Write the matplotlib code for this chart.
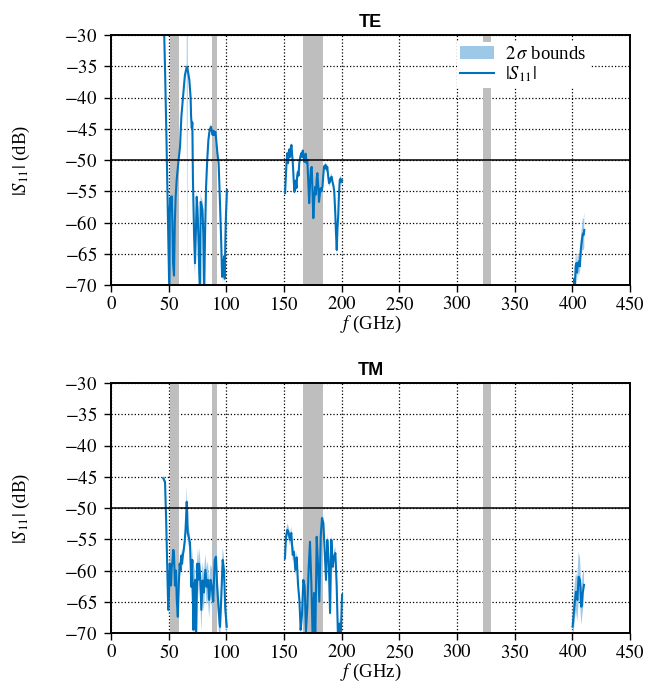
import numpy as np
import matplotlib
matplotlib.use("Agg")
import matplotlib.pyplot as plt
from matplotlib.ticker import FuncFormatter

nan = np.nan

# grey bands (GHz): start, stop
bands = [(50.8, 58.9), (87.7, 91.6), (166.5, 183.6), (322.6, 329.3)]

# TE polarisation: frequency (GHz), |S11| (dB), sigma (dB); nan separates sweeps
te_f = [46.0, 47.0, 48.0, 49.0, 50.0, 50.6, 51.0, 51.5, 52.0, 52.6, 53.2, 53.8, 54.6,
        55.3, 56.0, 56.9, 58.0, 59.8, 61.0, 62.7, 64.0, 65.0, 65.6, 66.1, 66.5, 67.9,
        69.0, 69.4, 70.0, 70.5, 71.0, 72.0, 72.8, 73.5, 74.3, 75.0, 75.7, 76.5, 77.2,
        77.7, 78.3, 79.3, 80.0, 80.7, 81.5, 82.4, 83.4, 84.4, 85.5, 86.7, 87.5, 88.1,
        88.8, 89.5, 90.5, 91.3, 92.2, 93.3, 94.5, 95.5, 96.3, 96.8, 97.4, 98.0, 98.6,
        99.2, 99.7, 100.5, nan,
        150.9, 151.3, 151.7, 152.3, 152.9, 153.5, 154.0, 154.6, 155.2, 155.8, 156.4,
        157.0, 157.6, 158.3, 159.0, 159.6, 160.2, 160.8, 161.4, 162.0, 162.6, 163.2,
        163.9, 164.5, 165.1, 165.7, 166.3, 167.0, 167.6, 168.2, 168.8, 169.5, 170.2,
        171.0, 171.8, 172.5, 173.2, 174.0, 174.7, 175.4, 176.1, 176.9, 177.6, 178.3,
        178.9, 179.6, 180.3, 181.0, 181.7, 182.5, 183.3, 184.0, 184.7, 185.4, 186.1,
        186.8, 187.5, 188.2, 189.0, 189.8, 190.5, 191.3, 192.0, 192.8, 193.5, 194.3,
        195.0, 195.7, 196.3, 197.0, 197.6, 198.3, 199.0, 199.6, 200.3, nan,
        401.0, 401.6, 402.2, 402.8, 403.4, 404.0, 404.6, 405.2, 405.8, 406.5, 407.2,
        407.8, 408.5, 409.1, 409.7, 410.3]
te_s = [-29.0, -37.0, -46.0, -56.0, -66.0, -72.0, -57.5, -56.0, -58.0, -55.8, -60.0,
        -66.5, -68.5, -60.0, -56.0, -53.2, -51.0, -47.9, -43.0, -39.3, -36.5, -35.6,
        -35.2, -35.1, -35.6, -37.2, -40.0, -43.0, -44.9, -44.0, -53.0, -62.0, -66.5,
        -62.0, -55.9, -58.0, -62.0, -68.0, -72.0, -56.7, -57.0, -58.0, -62.0, -72.0,
        -62.0, -54.3, -50.0, -46.8, -45.2, -44.7, -45.5, -46.0, -45.3, -46.0, -45.5,
        -47.0, -48.9, -50.5, -57.0, -63.0, -68.7, -66.0, -68.5, -65.4, -69.0, -62.0,
        -58.5, -54.8, nan,
        -55.3, -53.5, -52.1, -50.0, -48.9, -50.5, -49.5, -48.3, -49.5, -48.4, -47.6,
        -49.0, -50.5, -53.0, -55.1, -54.0, -53.3, -54.5, -52.5, -51.9, -52.5, -50.5,
        -49.7, -49.2, -48.9, -49.5, -48.5, -49.3, -50.3, -49.5, -49.0, -50.5, -50.0,
        -53.5, -56.9, -54.0, -51.5, -51.1, -55.0, -59.3, -56.5, -54.3, -55.5, -53.0,
        -52.1, -54.0, -56.7, -55.5, -54.5, -55.0, -54.3, -52.5, -51.0, -51.2, -50.8,
        -51.5, -51.1, -52.5, -53.7, -53.5, -52.8, -52.7, -53.5, -54.1, -55.0, -58.0,
        -61.5, -64.4, -61.0, -58.8, -55.5, -53.2, -53.0, -53.5, -53.3, nan,
        -72.0, -69.0, -71.0, -67.0, -66.5, -68.0, -66.5, -67.0, -66.2, -67.0, -64.5,
        -63.5, -62.5, -61.8, -62.0, -61.2]
te_sig = [0.4, 0.4, 0.4, 0.4, 0.5, 0.5, 0.6, 0.6, 0.6, 0.6, 0.8, 1.0, 1.0, 0.6, 0.5,
          0.4, 0.4, 0.4, 0.4, 0.4, 0.4, 0.5, 0.6, 35.0, 0.6, 0.5, 0.5, 0.5, 0.5, 0.6,
          1.0, 4.0, 2.0, 1.0, 1.0, 1.5, 2.0, 2.0, 2.0, 1.5, 1.0, 1.5, 2.0, 2.0, 1.5,
          0.8, 0.5, 0.5, 0.5, 0.5, 0.5, 0.5, 0.5, 0.5, 0.5, 0.5, 0.5, 0.6, 0.8, 1.0,
          1.2, 1.0, 1.2, 1.0, 1.2, 1.0, 0.8, 0.6, nan,
          0.5, 0.5, 0.5, 0.5, 0.5, 0.5, 0.5, 0.5, 0.5, 0.5, 0.5, 0.5, 0.5, 0.5, 0.5,
          0.5, 0.5, 0.5, 0.5, 0.5, 0.5, 0.5, 0.5, 0.5, 0.5, 0.5, 0.5, 0.5, 0.5, 0.5,
          0.5, 0.5, 0.5, 0.6, 0.6, 0.6, 0.5, 0.5, 0.6, 0.7, 0.6, 0.6, 0.6, 0.5, 0.5,
          0.6, 0.6, 0.6, 0.5, 0.5, 0.5, 0.5, 0.5, 0.5, 0.5, 0.5, 0.5, 0.5, 0.5, 0.5,
          0.5, 0.5, 0.5, 0.5, 0.6, 0.6, 0.7, 0.8, 0.7, 0.6, 0.6, 0.5, 0.5, 0.5, 0.5,
          nan,
          1.5, 1.5, 1.5, 1.5, 1.5, 1.5, 1.5, 1.5, 1.5, 1.5, 1.8, 2.0, 2.2, 2.5, 2.5, 2.8]

# TM polarisation
tm_f = [45.4, 46.8, 47.8, 48.8, 49.6, 50.2, 50.9, 51.5, 52.0, 52.6, 53.3, 54.0, 54.6,
        55.4, 56.3, 57.0, 57.9, 58.8, 59.5, 60.2, 61.0, 61.6, 62.3, 63.0, 63.8, 64.5,
        65.1, 65.6, 66.1, 66.5, 67.3, 68.5, 69.2, 69.6, 70.5, 71.4, 72.0, 73.0, 73.7,
        74.8, 75.5, 76.3, 77.3, 78.3, 79.4, 80.4, 81.8, 82.9, 84.0, 85.1, 86.3, 87.4,
        88.6, 89.9, 91.0, 92.0, 93.6, 94.5, 95.5, 96.8, 97.9, 99.0, 100.3, nan,
        150.8, 151.7, 152.9, 154.0, 155.2, 156.3, 157.5, 158.6, 159.8, 161.0, 162.1,
        163.3, 164.4, 165.6, 166.7, 167.9, 169.0, 170.2, 171.4, 172.5, 173.7, 174.8,
        176.0, 177.1, 178.3, 179.4, 180.6, 181.8, 182.9, 184.1, 185.2, 186.4, 187.5,
        188.7, 189.9, 191.0, 192.2, 193.3, 194.5, 195.6, 196.8, 197.9, 199.1, 200.3,
        nan,
        400.2, 401.7, 403.1, 404.3, 405.4, 406.6, 407.8, 408.9, 410.1]
tm_s = [-45.3, -45.8, -52.0, -60.0, -66.3, -64.0, -58.9, -60.0, -62.4, -59.5, -58.5,
        -56.7, -57.5, -62.4, -60.0, -64.7, -67.4, -62.0, -58.9, -60.0, -57.6, -58.9,
        -57.5, -56.7, -55.5, -53.8, -51.5, -49.0, -51.0, -54.0, -54.6, -55.6, -60.0,
        -62.6, -58.3, -69.5, -63.0, -61.5, -72.0, -58.9, -61.5, -58.9, -61.0, -66.3,
        -61.6, -63.5, -59.9, -62.6, -61.5, -64.7, -61.5, -62.6, -65.0, -58.3, -57.8,
        -62.6, -67.0, -69.0, -64.7, -58.3, -59.9, -66.0, -69.0, nan,
        -58.05, -54.6, -53.5, -54.0, -55.1, -54.0, -57.5, -57.0, -59.9, -57.9, -62.2,
        -64.7, -69.5, -67.0, -61.5, -62.5, -69.8, -65.8, -59.4, -55.4, -62.2, -71.0,
        -63.6, -71.0, -54.6, -58.9, -65.0, -54.6, -51.6, -52.4, -56.7, -61.5, -55.1,
        -58.3, -66.8, -55.1, -59.4, -57.8, -57.2, -62.2, -71.0, -68.5, -71.0, -63.9,
        nan,
        -69.0, -65.8, -63.4, -64.7, -61.0, -61.5, -65.8, -63.6, -62.3]
tm_sig = [0.5, 0.5, 0.6, 0.8, 1.0, 1.0, 1.0, 1.0, 1.2, 1.0, 1.0, 1.0, 1.0, 1.5, 1.2,
          1.5, 1.5, 1.2, 1.0, 1.0, 1.0, 1.0, 1.0, 1.0, 1.2, 1.5, 2.0, 2.5, 1.5, 1.5,
          1.5, 1.5, 2.0, 2.5, 2.0, 3.0, 3.0, 2.5, 3.0, 2.5, 3.0, 2.5, 3.0, 3.5, 3.0,
          3.0, 2.5, 3.0, 3.0, 3.0, 2.5, 3.0, 3.0, 2.5, 2.0, 2.5, 3.0, 3.0, 2.5, 2.0,
          2.0, 2.5, 2.5, nan,
          1.0, 1.0, 1.0, 1.0, 1.0, 1.0, 1.0, 1.0, 1.0, 1.0, 1.0, 1.0, 1.0, 1.0, 1.0,
          1.0, 1.0, 1.0, 1.0, 1.0, 1.0, 1.0, 1.0, 1.0, 1.0, 1.0, 1.0, 1.0, 1.0, 1.0,
          1.0, 1.0, 1.0, 1.0, 1.0, 1.0, 1.0, 1.0, 1.0, 1.0, 1.0, 1.0, 1.0, 1.0, nan,
          3.0, 3.0, 3.0, 3.5, 4.0, 3.5, 3.0, 3.0, 2.5]

blue = "#0072BD"
light = "#9DC8E8"
grey = "#BEBEBE"

plt.rcParams["font.family"] = ["Liberation Serif", "DejaVu Serif"]
plt.rcParams["mathtext.fontset"] = "stix"
plt.rcParams["font.size"] = 13.5

math_fmt = FuncFormatter(lambda v, pos: f"${v:g}$")

fig = plt.figure(figsize=(6.57, 6.96), dpi=100)
ax_te = fig.add_axes([0.169, 0.5905, 0.790, 0.3592])
ax_tm = fig.add_axes([0.169, 0.0905, 0.790, 0.3592])

for ax, name, f, s, sig in [(ax_te, "TE", te_f, te_s, te_sig),
                            (ax_tm, "TM", tm_f, tm_s, tm_sig)]:
    f = np.array(f)
    s = np.array(s)
    sig = np.array(sig)
    for b0, b1 in bands:
        ax.axvspan(b0, b1, color=grey, lw=0, zorder=1)
    ax.fill_between(f, s - sig, s + sig, color=light, lw=0, zorder=2,
                    label=r"$2\,\sigma$ bounds")
    ax.plot(f, s, color=blue, lw=1.5, zorder=3, label=r"$|S_{11}|$")
    ax.axhline(-50, color="black", lw=1.1, zorder=4)
    ax.set_xlim(0, 450)
    ax.set_ylim(-70, -30)
    ax.set_xticks(np.arange(0, 451, 50))
    ax.set_yticks(np.arange(-70, -29, 5))
    ax.xaxis.set_major_formatter(math_fmt)
    ax.yaxis.set_major_formatter(math_fmt)
    ax.grid(True, color="black", ls=":", lw=0.9)
    ax.set_axisbelow(True)
    ax.tick_params(direction="out", length=5, width=1, pad=3)
    ax.tick_params(axis="y", pad=5)
    for sp in ax.spines.values():
        sp.set_linewidth(1.4)
        sp.set_zorder(5)
    ax.set_title(name, family="Liberation Sans", fontweight="bold", fontsize=13, pad=6)
    ax.set_xlabel(r"$f$ (GHz)", labelpad=0)
    ax.set_ylabel(r"$|S_{11}|$ (dB)")
    ax.yaxis.set_label_coords(-0.152, 0.5)

leg = ax_te.legend(loc="upper left", bbox_to_anchor=(0.648, 1.01), frameon=True,
                   fancybox=False, edgecolor="none", framealpha=1, fontsize=13.5,
                   handlelength=1.8, handletextpad=0.6, borderpad=0.2, labelspacing=0.1)
leg.set_zorder(6)

fig.savefig("out.png", dpi=100)
